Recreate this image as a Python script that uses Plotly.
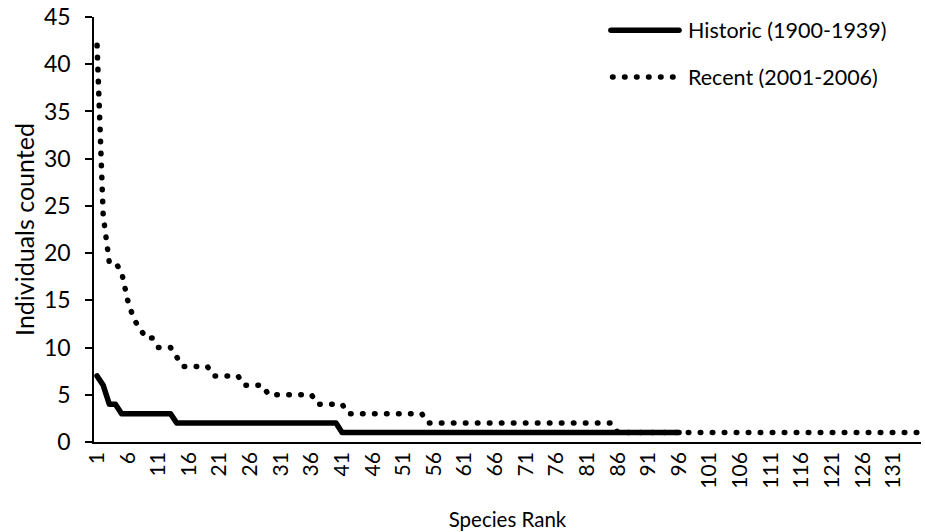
import plotly.graph_objects as go

# ---- data ----
historic_counts = [7, 6, 4, 4] + [3] * 9 + [2] * 27 + [1] * 56          # ranks 1..96
recent_counts = ([42, 24, 19, 19, 18, 15, 13, 12, 11, 11, 10, 10, 10, 9]
                 + [8] * 5 + [7] * 5 + [6] * 4 + [5] * 8 + [4] * 5
                 + [3] * 13 + [2] * 31 + [1] * 50)                          # ranks 1..135
historic_ranks = list(range(1, len(historic_counts) + 1))
recent_ranks = list(range(1, len(recent_counts) + 1))
x_tick_vals = list(range(1, 136, 5))
x_tick_text = [str(v) for v in x_tick_vals]
series_names = ["Historic (1900-1939)", "Recent (2001-2006)"]

FONT = "Lato"
FS = 21
DOT = "0.5px,11.5px"

fig = go.Figure()
fig.add_trace(go.Scatter(x=recent_ranks, y=recent_counts, mode="lines",
                         name=series_names[1], showlegend=False,
                         line=dict(color="black", width=5.5, dash=DOT)))
fig.add_trace(go.Scatter(x=historic_ranks, y=historic_counts, mode="lines",
                         name=series_names[0], showlegend=False,
                         line=dict(color="black", width=5.5)))

# manual legend (long line samples like the original)
L_X0, L_X1, L_TX = 0.625, 0.7074, 0.716
L_Y = [0.969, 0.859]
fig.add_shape(type="line", xref="paper", yref="paper", x0=L_X0, x1=L_X1, y0=L_Y[0], y1=L_Y[0],
              line=dict(color="black", width=5.5))
fig.add_shape(type="line", xref="paper", yref="paper", x0=L_X0 + 0.002, x1=L_X1, y0=L_Y[1], y1=L_Y[1],
              line=dict(color="black", width=5.5, dash=DOT))
for name, yy in zip(series_names, L_Y):
    fig.add_annotation(text=name, xref="paper", yref="paper", x=L_TX, y=yy,
                       xanchor="left", yanchor="middle", showarrow=False,
                       font=dict(family=FONT, size=21.5, color="black"))

fig.update_layout(
    width=925, height=532,
    margin=dict(l=94, r=4, t=17, b=90),
    paper_bgcolor="white", plot_bgcolor="white",
    font=dict(family=FONT, size=FS, color="black"),
    showlegend=False,
)
fig.update_xaxes(range=[0.5, 135.5], tickmode="array", tickvals=x_tick_vals, ticktext=x_tick_text,
                 tickangle=-90, showline=True, linecolor="black", linewidth=1.5, ticks="",
                 tickfont=dict(size=21),
                 showgrid=False, zeroline=False, automargin=False,
                 title=dict(text="Species Rank", font=dict(family=FONT, size=20.5), standoff=25))
fig.update_yaxes(range=[0, 45], dtick=5, showline=True, linecolor="black", linewidth=1.5,
                 ticks="outside", ticklen=7, tickcolor="black", tickwidth=1.5,
                 ticklabelstandoff=10, tickfont=dict(size=23),
                 showgrid=False, zeroline=False, automargin=False,
                 title=dict(text="Individuals counted", font=dict(family=FONT, size=25), standoff=2))

post = """
document.body.style.margin = '0px';
var gd = document.getElementById('{plot_id}');
function fixCaps(){
  gd.querySelectorAll('.scatterlayer path.js-line, .shapelayer path').forEach(function(p){
    p.style.strokeLinecap='round'; p.style.strokeLinejoin='round';
  });
}
fixCaps();
gd.on('plotly_afterplot', fixCaps);
"""
fig.write_html("out.html", post_script=post, config={"displayModeBar": False})
